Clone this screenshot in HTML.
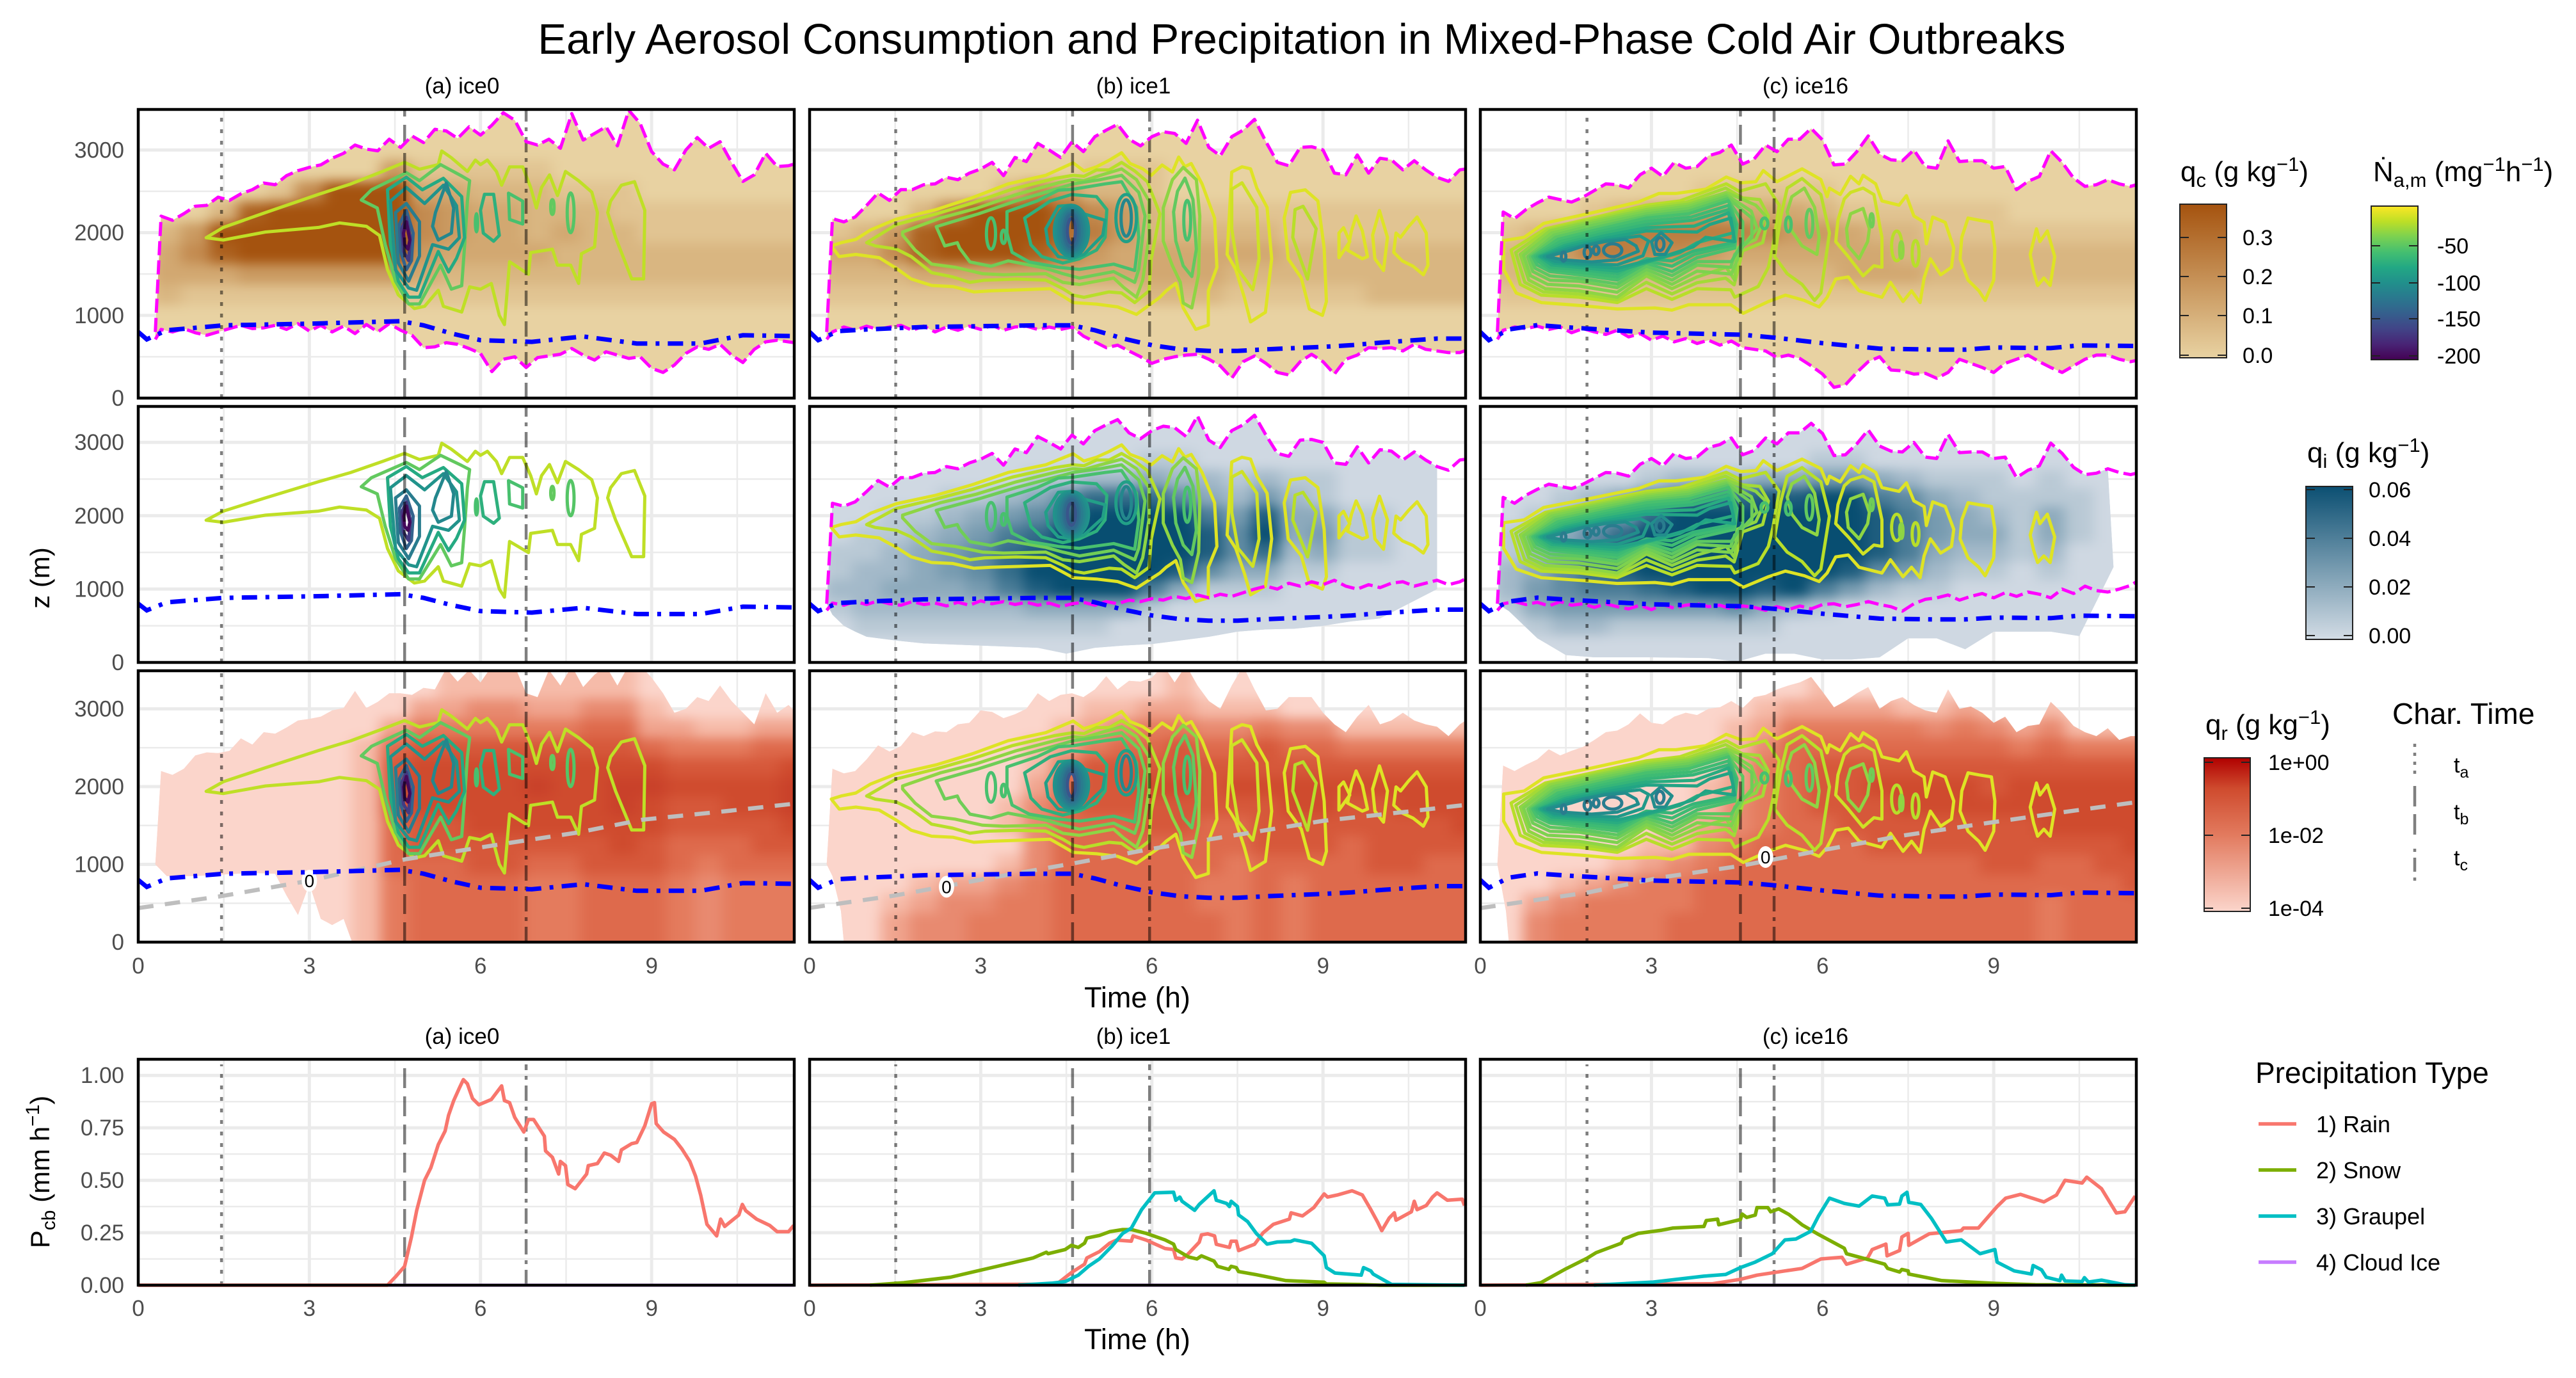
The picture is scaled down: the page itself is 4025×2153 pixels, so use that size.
<!DOCTYPE html>
<html lang="en">
<head>
<meta charset="utf-8">
<title>Early Aerosol Consumption and Precipitation in Mixed-Phase Cold Air Outbreaks</title>
<style>
html,body{margin:0;padding:0;background:#fff}
svg{display:block}
text{font-family:"Liberation Sans",sans-serif}
</style>
</head>
<body>
<svg id="fig" xmlns="http://www.w3.org/2000/svg" width="4025" height="2153" viewBox="0 0 4025 2153">
<defs>
<filter id="blurField" x="-5%" y="-5%" width="110%" height="110%" color-interpolation-filters="sRGB"><feGaussianBlur stdDeviation="11 9"/></filter>
<linearGradient id="gradQc" x1="0" y1="1" x2="0" y2="0"><stop offset="0" stop-color="#e8d2a2"/><stop offset="1" stop-color="#a5530f"/></linearGradient>
<linearGradient id="gradNa" x1="0" y1="1" x2="0" y2="0"><stop offset="0" stop-color="#440154"/><stop offset=".1" stop-color="#482475"/><stop offset=".2" stop-color="#414487"/><stop offset=".3" stop-color="#355f8d"/><stop offset=".4" stop-color="#2a788e"/><stop offset=".5" stop-color="#21908c"/><stop offset=".6" stop-color="#22a884"/><stop offset=".7" stop-color="#44bf70"/><stop offset=".8" stop-color="#7ad151"/><stop offset=".9" stop-color="#bddf26"/><stop offset="1" stop-color="#fde725"/></linearGradient>
<linearGradient id="gradQi" x1="0" y1="1" x2="0" y2="0"><stop offset="0" stop-color="#d3dce5"/><stop offset="1" stop-color="#0b4f72"/></linearGradient>
<linearGradient id="gradQr" x1="0" y1="1" x2="0" y2="0"><stop offset="0" stop-color="#fbd5cb"/><stop offset=".5" stop-color="#e27a5e"/><stop offset=".8" stop-color="#cf4b2e"/><stop offset="1" stop-color="#b00000"/></linearGradient>
</defs>
<rect x="0" y="0" width="4025" height="2153" fill="#fff"/>
<text x="2034" y="84" font-size="67" text-anchor="middle" fill="#000">Early Aerosol Consumption and Precipitation in Mixed-Phase Cold Air Outbreaks</text>
<g id="plots"></g>

<text transform="rotate(-90 77 903)" x="77" y="903" font-size="42" text-anchor="middle">z (m)</text>
<text transform="rotate(-90 77 1831)" x="77" y="1831" font-size="42" text-anchor="middle">P<tspan dy="9" font-size="30">cb</tspan><tspan dy="-9"> (mm h</tspan><tspan dy="-16" font-size="30">−1</tspan><tspan dy="16">)</tspan></text>
<text x="1777" y="1574" font-size="45" text-anchor="middle">Time (h)</text>
<text x="1777" y="2108" font-size="45" text-anchor="middle">Time (h)</text>

<g>
<text x="3407" y="283" font-size="44">q<tspan dy="9" font-size="31">c</tspan><tspan dy="-9"> (g kg</tspan><tspan dy="-16" font-size="31">−1</tspan><tspan dy="16">)</tspan></text>
<rect x="3406" y="319" width="73" height="240" fill="url(#gradQc)" stroke="#222" stroke-width="2"/>
<path d="M3406 371h14M3465 371h14M3406 432h14M3465 432h14M3406 493h14M3465 493h14M3406 555h14M3465 555h14" stroke="#222" stroke-width="2"/>
<g font-size="34" fill="#000"><text x="3504" y="383">0.3</text><text x="3504" y="444">0.2</text><text x="3504" y="505">0.1</text><text x="3504" y="567">0.0</text></g>
</g>
<g>
<text x="3708" y="283" font-size="44">Ṅ<tspan dy="9" font-size="31">a,m</tspan><tspan dy="-9"> (mg</tspan><tspan dy="-16" font-size="31">−1</tspan><tspan dy="16">h</tspan><tspan dy="-16" font-size="31">−1</tspan><tspan dy="16">)</tspan></text>
<rect x="3705" y="322" width="73" height="240" fill="url(#gradNa)" stroke="#222" stroke-width="2"/>
<path d="M3705 384h14M3764 384h14M3705 442h14M3764 442h14M3705 498h14M3764 498h14M3705 556h14M3764 556h14" stroke="#222" stroke-width="2"/>
<g font-size="34" fill="#000"><text x="3808" y="396">-50</text><text x="3808" y="454">-100</text><text x="3808" y="510">-150</text><text x="3808" y="568">-200</text></g>
</g>
<g>
<text x="3605" y="722" font-size="44">q<tspan dy="9" font-size="31">i</tspan><tspan dy="-9"> (g kg</tspan><tspan dy="-16" font-size="31">−1</tspan><tspan dy="16">)</tspan></text>
<rect x="3603" y="760" width="73" height="239" fill="url(#gradQi)" stroke="#222" stroke-width="2"/>
<path d="M3603 765h14M3662 765h14M3603 841h14M3662 841h14M3603 917h14M3662 917h14M3603 993h14M3662 993h14" stroke="#222" stroke-width="2"/>
<g font-size="34" fill="#000"><text x="3701" y="777">0.06</text><text x="3701" y="853">0.04</text><text x="3701" y="929">0.02</text><text x="3701" y="1005">0.00</text></g>
</g>
<g>
<text x="3446" y="1147" font-size="44">q<tspan dy="9" font-size="31">r</tspan><tspan dy="-9"> (g kg</tspan><tspan dy="-16" font-size="31">−1</tspan><tspan dy="16">)</tspan></text>
<rect x="3444" y="1184" width="72" height="240" fill="url(#gradQr)" stroke="#222" stroke-width="2"/>
<path d="M3444 1191h14M3502 1191h14M3444 1305h14M3502 1305h14M3444 1419h14M3502 1419h14" stroke="#222" stroke-width="2"/>
<g font-size="34" fill="#000"><text x="3544" y="1203">1e+00</text><text x="3544" y="1317">1e-02</text><text x="3544" y="1431">1e-04</text></g>
</g>
<g>
<text x="3738" y="1131" font-size="46">Char. Time</text>
<line x1="3773" y1="1162" x2="3773" y2="1213" stroke="#000" stroke-opacity=".5" stroke-width="4.5" stroke-dasharray="5 9"/>
<line x1="3773" y1="1228" x2="3773" y2="1311" stroke="#000" stroke-opacity=".5" stroke-width="4.5" stroke-dasharray="32 12"/>
<line x1="3773" y1="1326" x2="3773" y2="1376" stroke="#000" stroke-opacity=".5" stroke-width="4.5" stroke-dasharray="5 9 22 9"/>
<text x="3834" y="1207" font-size="34">t<tspan dy="8" font-size="25">a</tspan></text>
<text x="3834" y="1280" font-size="34">t<tspan dy="8" font-size="25">b</tspan></text>
<text x="3834" y="1352" font-size="34">t<tspan dy="8" font-size="25">c</tspan></text>
</g>
<g>
<text x="3524" y="1692" font-size="46">Precipitation Type</text>
<line x1="3529" y1="1756" x2="3588" y2="1756" stroke="#F8766D" stroke-width="5.5"/>
<line x1="3529" y1="1828" x2="3588" y2="1828" stroke="#7CAE00" stroke-width="5.5"/>
<line x1="3529" y1="1900" x2="3588" y2="1900" stroke="#00BFC4" stroke-width="5.5"/>
<line x1="3529" y1="1972" x2="3588" y2="1972" stroke="#C77CFF" stroke-width="5.5"/>
<text x="3619" y="1769" font-size="36">1) Rain</text>
<text x="3619" y="1841" font-size="36">2) Snow</text>
<text x="3619" y="1913" font-size="36">3) Graupel</text>
<text x="3619" y="1985" font-size="36">4) Cloud Ice</text>
</g>
</svg>
<script>
// ---------- axis ticks ----------
const timeTicks=[0,3,6,9];
const timeMinorTicks=[1.5,4.5,7.5,10.5];
const heightTicks=[0,1000,2000,3000];
const heightMinorTicks=[500,1500,2500,3500];
const precipTicks=[0,0.25,0.5,0.75,1];
const precipTickLabels=['0.00','0.25','0.50','0.75','1.00'];
const precipMinorTicks=[0.125,0.375,0.625,0.875];
const panelTitles=['(a) ice0','(b) ice1','(c) ice16'];

// ---------- characteristic times (h) per run ----------
const charTimesA=[1.46,4.67,6.8];
const charTimesB=[1.51,4.61,5.96];
const charTimesC=[1.87,4.56,5.15];

// ---------- envelope series: t = 0.3 (cloud onset), 0.4, 0.6 ... 11.6 h ----------
const cloudTopA=[800,2200,2150,2230,2320,2330,2430,2390,2470,2520,
2600,2580,2690,2750,2790,2820,2900,2960,3060,3010,
2990,3130,3030,3170,3090,3250,3230,3140,3280,3180,
3300,3450,3360,3100,3060,3130,3020,3440,3120,3200,
3280,3050,3480,3320,2980,2830,2760,3000,3150,3020,
3100,2850,2620,2700,2960,2800,2810,2850];
const cloudBaseA=[710,830,800,840,790,760,800,840,880,840,
850,880,830,900,810,880,800,870,780,890,
800,900,820,760,610,620,670,650,600,540,
320,470,500,370,490,510,530,600,520,460,
560,520,480,500,360,310,400,540,620,590,
650,520,430,590,680,700,680,660];
const cloudTopB=[800,2170,2130,2190,2330,2480,2390,2520,2520,2580,
2590,2670,2640,2720,2770,2850,2690,2910,2860,3080,
3000,2910,3100,2980,3160,3240,3310,3130,3050,3160,
3220,3200,3080,3360,3030,2930,3160,3240,3370,3100,
2850,2810,3030,3040,3000,2720,2700,2940,2720,2900,
2880,2760,2870,2760,2670,2620,2760,2780];
const cloudBaseB=[710,800,860,820,870,830,860,880,820,870,
800,860,820,870,830,880,820,860,870,830,
860,830,860,750,680,610,640,570,500,420,
470,500,520,530,470,390,240,440,510,420,
310,280,440,530,440,290,470,520,610,600,
610,570,650,590,570,550,550,600];
const cloudTopC=[800,2250,2170,2280,2360,2430,2400,2370,2430,2510,
2590,2580,2540,2700,2780,2680,2850,2780,2800,2930,
2970,3060,2830,2890,3060,2980,3130,3130,3260,3120,
2820,2830,2980,3170,2950,2880,2870,3000,2800,2780,
3110,2860,2870,2870,2780,2800,2520,2620,2680,2990,
2850,2660,2560,2580,2640,2590,2560,2600];
const cloudBaseC=[710,820,860,840,870,830,860,790,840,800,
770,820,740,780,700,750,680,720,660,700,
640,690,610,590,570,490,520,480,390,290,
130,160,310,440,500,340,330,290,300,240,
310,470,420,370,310,420,470,520,440,370,
310,390,470,520,520,470,440,470];
const iceLineBaseB=[710,810,780,830,790,840,800,780,830,790,
810,770,820,780,840,800,830,790,820,780,
810,760,800,820,780,830,800,850,830,870,
850,900,870,920,880,930,900,950,1000,1040,
1000,1080,1040,1100,1060,1120,1040,1000,1060,1020,
1080,1100,1040,1080,1120,1060,1100,1180];
const iceLineBaseC=[710,800,830,790,820,770,830,780,800,750,
800,760,730,780,720,790,740,780,800,760,
780,730,770,750,710,760,720,770,730,790,
800,760,790,830,790,760,700,800,860,880,
920,850,900,940,880,950,900,960,930,880,
1000,940,1040,980,960,1000,1050,1150];
const rainTopA=[1000,2200,2150,2230,2400,2440,2430,2460,2620,2540,
2700,2680,2760,2850,2870,2900,2980,3010,3230,3010,
3090,3200,3200,3180,3270,3250,3520,3350,3500,3340,
3550,3550,3550,3200,3150,3500,3300,3550,3280,3440,
3550,3300,3560,3560,3400,3200,2950,3000,3150,3100,
3300,3100,2950,2800,3200,2950,3050,2900];
const rainTopB=[1000,2230,2170,2200,2350,2530,2450,2520,2700,2650,
2710,2700,2800,2820,2980,2960,2880,2930,3000,3200,
3100,3180,3200,3150,3250,3420,3250,3360,3350,3400,
3560,3340,3560,3300,3100,3000,3300,3550,3250,2980,
3000,3150,3150,3150,2950,2800,2700,2900,3050,2800,
2850,2950,2850,2800,2770,2650,2800,2900];
const rainTopC=[1000,2270,2200,2280,2350,2480,2400,2460,2510,2600,
2700,2720,2800,2940,2820,2800,2900,2950,2920,3000,
3020,3100,3010,3150,3180,3250,3300,3340,3410,3220,
3020,3100,3200,3280,3000,3100,3150,3050,2980,2950,
3250,3000,3030,2950,2820,2900,2700,2780,2800,3090,
2950,2780,2700,2650,2750,2600,2650,2650];

// ---------- lower bounds of the ice and rain shading ----------
const iceBaseTimesB=[0.3,0.4,0.6,0.8,1,1.5,2,3,4,4.5,5,5.5,6,6.5,7,7.5,8,8.5,9,9.5,10,10.5,11];
const iceBaseValuesB=[800,650,500,420,350,300,260,230,200,120,200,230,250,300,350,420,450,460,500,560,600,800,1000];
const iceBaseTimesC=[0.3,0.5,1,1.5,2,3,4,4.5,5,5.5,6,6.5,7,7.5,8,8.5,9,9.5,10,10.5,11.1];
const iceBaseValuesC=[800,700,330,100,70,70,60,10,120,120,40,40,70,330,330,180,420,420,420,360,1300];
const rainBaseTimesA=[0.3,0.5,1,1.5,2,2.4,2.6,2.8,3,3.2,3.4,3.6,3.75,11.6];
const rainBaseValuesA=[1000,850,850,870,890,880,600,350,750,300,220,300,0,0];
const rainBaseTimesB=[0.3,0.4,0.55,0.6,11.6];
const rainBaseValuesB=[1000,850,400,0,0];
const rainBaseTimesC=[0.3,0.35,0.45,0.5,11.6];
const rainBaseValuesC=[1000,800,400,0,0];

// ---------- cloud base height (blue) and freezing level (grey) ----------
const meanBaseTimesA=[0,0.15,0.5,1.5,3,4.6,5,5.5,6,6.9,7.8,8.74,9.86,10.6,11.5];
const meanBaseValuesA=[800,710,820,880,900,930,880,780,700,680,745,660,660,760,750];
const meanBaseTimesB=[0,0.15,0.5,1,2,3,4,4.6,5,5.5,6,6.5,7,7.5,8,9,9.5,10,11,11.5];
const meanBaseValuesB=[800,700,810,830,860,870,880,880,820,720,640,590,570,570,590,620,640,670,720,720];
const meanBaseTimesC=[0,0.15,0.5,1,1.5,3,4.6,5.2,6,7,8,8.5,9,10,10.5,11.5];
const meanBaseValuesC=[800,700,830,883,857,792,766,728,664,598,586,586,612,604,637,630];
const freezingTimesA=[0,1.46,3,4.68,6.46,7.7,8.83,10.3,11.5];
const freezingValuesA=[438,592,790,1065,1271,1409,1574,1684,1780];
const freezingTimesB=[0,1.5,3.2,4.6,6,7.5,9,10.5,11.5];
const freezingValuesB=[440,600,830,1010,1200,1380,1560,1680,1765];
const freezingTimesC=[0,1.9,3.15,4.56,5.9,7.4,8.87,10.35,11.5];
const freezingValuesC=[438,640,830,980,1170,1370,1530,1685,1800];
const zeroLabelTimes=[3,2.4,5];
const zeroLabelHeights=[790,713,1095];

// ---------- heat map fields: columns t = 0,0.5..11.5 h; rows z = 3250,3000.. m (digit = colour class) ----------
const qcFieldA=[
[0,0,0,0,0,0,0,0,0,0,0,0,0,0,0,0,0,0,0,0,0,0,0,0],
[0,0,0,0,0,0,0,0,0,0,0,0,0,0,0,0,0,0,0,0,0,0,0,0],
[0,0,0,0,0,0,0,0,0,4,1,1,1,1,1,0,0,0,0,0,0,0,0,0],
[0,0,0,0,0,1,5,9,9,9,3,3,2,2,2,1,1,1,0,0,0,0,0,0],
[0,0,0,2,8,9,9,9,9,9,5,4,3,3,2,2,2,1,1,1,1,1,1,1],
[0,2,4,9,9,9,9,9,9,9,5,4,3,3,2,3,2,2,1,1,1,1,1,1],
[0,3,5,8,9,9,9,9,9,9,4,3,3,3,3,2,2,2,2,2,2,2,2,2],
[1,3,3,3,4,4,4,4,4,4,3,2,2,2,2,2,2,2,2,2,2,2,2,2],
[1,2,1,1,1,1,1,1,1,1,1,1,1,1,1,1,1,1,1,1,1,1,1,1],
[0,0,0,0,0,0,0,0,0,0,0,0,0,0,0,0,0,0,0,0,0,0,0,0],
[0,0,0,0,0,0,0,0,0,0,0,0,0,0,0,0,0,0,0,0,0,0,0,0],
[0,0,0,0,0,0,0,0,0,0,0,0,0,0,0,0,0,0,0,0,0,0,0,0]];
const qcFieldB=[
[0,0,0,0,0,0,0,0,0,0,0,0,0,0,0,0,0,0,0,0,0,0,0,0],
[0,0,0,0,0,0,0,0,0,0,0,0,0,0,0,0,0,0,0,0,0,0,0,0],
[0,0,0,0,0,0,0,0,0,0,1,1,1,0,0,0,0,0,0,0,0,0,0,0],
[0,0,0,0,0,0,0,2,5,4,2,2,1,0,0,0,0,0,0,0,0,0,0,0],
[0,0,0,0,2,6,9,9,9,7,5,4,2,1,1,1,1,1,1,1,1,1,1,1],
[0,1,2,4,8,9,9,9,9,7,6,4,2,2,2,2,2,1,1,1,1,1,1,1],
[1,3,3,5,8,9,9,9,8,6,4,3,3,3,3,3,3,2,2,2,2,2,2,2],
[1,2,2,2,3,3,3,3,3,3,3,3,3,3,3,2,2,2,2,2,2,2,2,2],
[1,1,1,1,1,1,1,1,1,1,1,1,2,2,2,1,1,1,1,1,2,2,2,2],
[0,0,0,0,0,0,0,0,0,0,0,0,0,0,0,0,0,0,0,0,0,0,0,0],
[0,0,0,0,0,0,0,0,0,0,0,0,0,0,0,0,0,0,0,0,0,0,0,0],
[0,0,0,0,0,0,0,0,0,0,0,0,0,0,0,0,0,0,0,0,0,0,0,0]];
const qcFieldC=[
[0,0,0,0,0,0,0,0,0,0,0,0,0,0,0,0,0,0,0,0,0,0,0,0],
[0,0,0,0,0,0,0,0,0,0,0,0,0,0,0,0,0,0,0,0,0,0,0,0],
[0,0,0,0,0,0,0,0,0,0,0,0,0,0,0,0,0,0,0,0,0,0,0,0],
[0,0,0,0,0,0,0,0,1,1,1,1,1,0,0,0,0,0,0,0,0,0,0,0],
[0,0,0,0,1,2,3,3,4,3,3,3,2,1,1,1,1,1,1,0,0,0,0,0],
[0,1,2,3,5,6,6,6,6,6,5,4,4,3,2,2,1,1,1,1,1,1,1,1],
[1,2,3,4,6,6,5,5,4,3,3,3,3,3,3,2,2,2,2,2,2,2,2,2],
[1,2,2,2,2,2,2,2,2,2,2,2,2,3,3,3,2,2,2,2,2,2,2,2],
[0,1,1,1,1,1,1,1,1,1,1,1,1,1,1,1,1,1,1,1,1,1,1,1],
[0,0,0,0,0,0,0,0,0,0,0,0,0,0,0,0,0,0,0,0,0,0,0,0],
[0,0,0,0,0,0,0,0,0,0,0,0,0,0,0,0,0,0,0,0,0,0,0,0],
[0,0,0,0,0,0,0,0,0,0,0,0,0,0,0,0,0,0,0,0,0,0,0,0]];
const qiFieldB=[
[0,0,0,0,0,0,0,0,0,0,0,0,0,0,0,0,0,0,0,0,0,0,0,0],
[0,0,0,0,0,0,0,0,0,0,0,0,0,0,0,0,0,0,0,0,0,0,0,0],
[0,0,0,0,0,0,0,0,0,0,0,0,1,1,0,0,0,0,0,0,0,0,0,0],
[0,0,0,0,0,0,0,0,1,1,2,2,3,2,2,1,2,1,1,0,0,0,0,0],
[0,0,0,0,0,1,1,2,3,5,7,7,7,5,3,2,4,2,1,0,0,0,0,0],
[0,0,0,1,1,2,3,4,5,7,9,9,9,9,6,4,8,3,3,1,1,0,0,0],
[0,0,1,1,2,3,4,6,7,9,9,9,9,9,8,5,9,3,4,1,1,0,0,0],
[0,1,1,2,3,4,5,7,8,9,9,9,9,9,8,5,7,2,3,1,1,0,0,0],
[0,1,2,2,3,4,5,7,9,9,9,9,9,8,5,3,3,1,1,0,0,0,0,0],
[0,2,2,3,3,3,4,6,8,9,9,9,6,3,1,1,1,0,0,0,0,0,0,0],
[0,1,2,2,2,2,2,2,3,3,3,3,1,0,0,0,0,0,0,0,0,0,0,0],
[0,0,1,1,1,1,1,1,1,1,1,0,0,0,0,0,0,0,0,0,0,0,0,0],
[0,0,0,0,0,0,0,0,0,0,0,0,0,0,0,0,0,0,0,0,0,0,0,0],
[0,0,0,0,0,0,0,0,0,0,0,0,0,0,0,0,0,0,0,0,0,0,0,0]];
const qiFieldC=[
[0,0,0,0,0,0,0,0,0,0,0,0,0,0,0,0,0,0,0,0,0,0,0,0],
[0,0,0,0,0,0,0,0,0,0,0,0,0,0,0,0,0,0,0,0,0,0,0,0],
[0,0,0,0,0,0,0,0,0,0,0,0,1,1,0,0,0,0,0,0,0,0,0,0],
[0,0,0,0,0,0,1,2,2,2,3,3,4,4,3,2,1,1,1,0,1,0,0,0],
[0,0,0,1,2,3,5,6,7,7,8,8,9,9,6,5,3,2,1,1,1,1,0,0],
[0,0,1,2,3,4,7,9,9,9,9,9,9,9,8,6,4,3,2,1,3,1,0,0],
[0,1,2,3,5,7,9,9,9,9,9,9,9,9,8,6,4,3,3,1,3,1,0,0],
[0,1,2,4,6,8,9,9,9,9,9,9,9,9,8,6,3,2,2,1,2,0,0,0],
[0,2,3,5,7,8,9,9,9,9,9,9,9,8,5,4,2,1,1,0,1,0,0,0],
[0,2,4,5,6,6,7,8,9,9,8,9,6,4,2,1,1,0,0,0,0,0,0,0],
[0,1,3,4,4,4,4,4,4,5,3,2,1,0,0,0,0,0,0,0,0,0,0,0],
[0,0,1,2,2,1,1,1,1,1,1,0,0,0,0,0,0,0,0,0,0,0,0,0],
[0,0,0,0,0,0,0,0,0,0,0,0,0,0,0,0,0,0,0,0,0,0,0,0],
[0,0,0,0,0,0,0,0,0,0,0,0,0,0,0,0,0,0,0,0,0,0,0,0]];
const qrFieldA=[
[0,0,0,0,0,0,0,0,0,0,0,1,1,1,1,1,1,1,0,0,0,0,0,0],
[0,0,0,0,0,0,0,0,0,0,2,2,3,3,2,2,3,3,1,0,0,0,0,0],
[0,0,0,0,0,0,0,0,0,2,4,4,4,4,4,4,5,5,2,2,1,1,2,2],
[0,0,0,0,0,0,0,0,1,5,6,6,6,6,6,6,6,6,5,4,4,4,5,5],
[0,0,0,0,0,0,0,0,1,6,7,7,7,7,7,7,7,7,7,6,6,6,6,7],
[0,0,0,0,0,0,0,0,1,6,7,7,7,7,8,7,7,8,8,7,7,7,7,8],
[0,0,0,0,0,0,0,0,1,6,7,7,7,7,7,7,7,8,7,6,6,7,7,8],
[0,0,0,0,0,0,0,0,1,5,6,6,7,7,7,7,7,7,7,6,6,6,6,7],
[0,0,0,0,0,0,0,0,1,5,6,6,6,6,6,6,6,7,6,5,5,5,6,6],
[0,0,0,0,0,0,0,0,1,5,5,5,6,6,5,5,6,6,6,5,4,5,5,5],
[0,0,0,0,0,0,0,0,1,4,5,5,5,5,4,4,5,5,5,4,3,4,4,4],
[0,0,0,0,0,0,0,0,1,4,5,5,5,5,4,4,5,5,5,4,3,4,4,4],
[0,0,0,0,0,0,0,0,1,4,5,5,5,5,4,4,5,5,5,4,3,4,4,4],
[0,0,0,0,0,0,0,0,1,4,5,5,5,5,4,4,5,5,5,4,3,4,4,4]];
const qrFieldB=[
[0,0,0,0,0,0,0,0,0,0,0,0,0,1,0,0,0,0,0,0,0,0,0,0],
[0,0,0,0,0,0,0,0,0,0,1,1,2,2,1,1,1,0,0,0,0,0,0,0],
[0,0,0,0,0,0,0,0,0,1,2,3,4,4,3,3,4,3,3,1,1,1,1,1],
[0,0,0,0,0,0,0,0,1,2,4,5,5,6,5,5,6,5,5,4,4,4,4,4],
[0,0,0,0,0,0,0,0,1,4,6,6,6,6,6,6,6,6,6,6,6,6,6,6],
[0,0,0,0,0,0,0,0,2,5,6,6,7,7,6,7,7,7,7,7,7,7,7,7],
[0,0,0,0,0,0,0,1,3,5,6,6,6,6,6,6,6,7,7,6,6,7,7,7],
[0,0,0,0,0,0,0,1,3,5,5,5,6,6,5,5,6,6,6,6,6,6,6,7],
[0,0,0,0,0,0,0,0,3,5,5,5,5,5,5,5,6,6,6,5,6,6,6,6],
[0,0,0,0,0,0,0,1,3,5,5,5,5,5,5,4,5,5,5,5,6,6,5,5],
[0,0,0,0,1,2,2,3,4,5,5,5,5,5,4,4,5,4,5,5,5,5,5,5],
[0,0,0,1,2,3,3,4,4,5,5,5,5,5,4,4,5,4,5,5,5,5,5,5],
[0,0,0,2,3,3,4,4,4,5,5,5,5,5,5,4,5,4,5,5,5,5,5,5],
[0,0,0,2,3,3,4,4,4,5,5,5,5,5,5,4,5,4,5,5,5,5,5,5]];
const qrFieldC=[
[0,0,0,0,0,0,0,0,0,0,0,0,1,0,0,0,0,0,0,0,0,0,0,0],
[0,0,0,0,0,0,0,0,0,0,1,2,2,2,2,1,1,2,1,0,1,0,0,0],
[0,0,0,0,0,0,0,0,0,1,2,4,4,4,4,4,3,4,3,2,3,1,1,1],
[0,0,0,0,0,0,0,0,0,1,3,5,5,5,5,5,5,5,5,4,5,4,4,4],
[0,0,0,0,0,0,0,0,0,2,4,5,6,6,6,6,6,6,6,6,6,6,6,6],
[0,0,0,0,0,0,0,0,1,2,4,5,6,6,7,7,7,7,6,7,7,7,7,7],
[0,0,0,0,0,0,0,0,1,3,4,5,6,6,6,7,7,7,7,7,7,7,7,7],
[0,0,0,0,0,0,0,1,2,3,4,5,5,6,6,6,6,6,6,6,7,7,7,7],
[0,0,0,0,0,0,1,1,3,4,5,5,5,5,6,6,6,6,6,6,6,6,6,7],
[0,0,0,0,0,1,2,3,4,5,5,5,5,5,5,5,5,5,6,6,5,5,6,6],
[0,0,0,1,2,3,4,4,5,5,5,5,5,5,5,5,5,5,5,5,5,5,5,6],
[0,0,2,3,4,4,4,4,5,5,5,5,5,5,5,5,5,5,5,5,4,5,5,5],
[0,0,3,4,4,4,4,5,5,5,5,5,5,5,5,5,5,5,5,5,4,5,5,5],
[0,0,3,4,4,4,4,5,5,5,5,5,5,5,5,5,5,5,5,5,4,5,5,5]];
const qcColorRamp=['#e8d2a2','#a5530f'];
const qiColorRamp=['#cfd8e2','#084e71'];
const qrColorClasses=['#fbd5cb','#f6bba9','#f0a48e','#e88a70','#e47b5d','#de6a4c','#d6583a','#cf4b2e','#c9412a','#b00000'];
const viridisStops=['#440154','#482475','#414487','#355f8d','#2a788e','#21908c','#22a884','#44bf70','#7ad151','#bddf26','#fde725'];

// ---------- aerosol consumption contours: level v (mg-1 h-1) and flat t,z outline ----------
const contoursA=[
{v:-20,p:[1.19,1939,1.49,2063,2.23,2243,3.16,2464,3.72,2588,4.28,2740,4.67,2850,4.93,2767,5.26,2823,5.32,2988,5.49,2906,5.77,2740,5.91,2878,6,2823,6.12,2878,6.28,2740,6.37,2574,6.51,2795,6.74,2795,6.88,2547,6.98,2298,7.07,2547,7.21,2698,7.35,2450,7.49,2740,7.72,2629,7.95,2491,8.05,2243,8,1828,7.77,1746,7.72,1387,7.58,1607,7.35,1607,7.26,1801,6.88,1759,6.84,1497,6.51,1649,6.42,889,6.33,1000,6.19,1386,6,1317,5.81,1345,5.67,1041,5.35,1110,5.26,1304,5.02,1110,4.84,1083,4.56,1248,4.37,1552,4.23,1966,4,2077,3.53,2118,3.16,2063,2.23,2008,1.49,1911]},
{v:-20,p:[8.28,2381,8.47,2574,8.7,2616,8.88,2270,8.86,1442,8.65,1442,8.37,1939,8.23,2243]},
{v:-50,p:[3.91,2395,4.09,2519,4.7,2726,4.93,2629,5.3,2823,5.67,2685,5.81,2629,5.77,2381,5.72,1828,5.67,1359,5.49,1317,5.3,1607,4.93,1138,4.74,1138,4.51,1414,4.33,1856,4.19,2298]},
{v:-80,p:[4.37,2519,4.7,2671,4.98,2519,5.35,2657,5.67,2436,5.72,1939,5.58,1690,5.44,1525,5.26,1773,4.93,1221,4.74,1221,4.56,1414,4.42,1856]},
{v:-100,p:[4.42,2381,4.7,2547,5.02,2353,5.35,2574,5.58,2325,5.63,1939,5.44,1801,5.16,1856,4.88,1304,4.74,1331,4.51,1552]},
{v:-120,p:[4.51,2243,4.7,2353,4.93,2132,4.93,1718,4.74,1414,4.56,1635]},
{v:-140,p:[4.58,2105,4.7,2270,4.82,1994,4.79,1663,4.7,1552,4.6,1773]},
{v:-170,p:[4.62,2049,4.7,2187,4.77,1939,4.74,1663,4.65,1773]},
{v:-200,p:[4.65,1994,4.7,2132,4.76,1911,4.73,1801,4.67,1856]},
{v:-110,p:[5.21,2243,5.4,2602,5.53,2298,5.49,1994,5.26,1911,5.16,2077]},
{v:-75,p:[6.07,2464,6.23,2464,6.33,1967,6.23,1897,6.05,1994,6,2270]},
{v:-60,p:[6.49,2478,6.74,2381,6.74,2105,6.51,2160]}
];
const ellipsesA=[
{v:-60,t:5.93,z:2120,dt:.02,dz:110},
{v:-50,t:7.26,z:2310,dt:.03,dz:90},
{v:-55,t:7.58,z:2240,dt:.06,dz:240}
];
const contoursB=[
{v:-10,p:[.38,1840,.55,1879,.81,1918,1.07,2034,1.52,2164,2.22,2280,2.85,2422,3.48,2590,4.14,2694,4.62,2844,4.81,2746,5.03,2797,5.25,2875,5.47,2966,5.62,2836,5.84,2772,5.99,2694,6.18,2818,6.36,2733,6.47,2914,6.58,2798,6.69,2836,6.88,2590,7.1,2176,7.14,1582,6.99,1297,6.99,883,6.77,831,6.55,1090,6.42,1388,6.25,1297,6.14,1219,5.73,1012,5.4,1103,5.03,1137,4.62,1155,4.44,1232,4.22,1323,3.7,1310,3.18,1297,2.88,1284,2.51,1349,2.14,1362,1.78,1440,1.52,1569,1.22,1698,.81,1737,.52,1711]},
{v:-22,p:[1,1879,1.52,2099,2.22,2228,2.85,2358,3.55,2526,4.29,2655,4.62,2694,4.81,2681,5.03,2759,5.25,2759,5.47,2849,5.7,2746,5.92,2616,6.14,2228,5.99,1685,5.95,1297,5.7,1155,5.47,1271,5.25,1284,4.81,1219,4.62,1245,4.44,1323,4.14,1427,3.62,1439,3.07,1426,2.81,1400,2.51,1465,2.14,1517,1.78,1711,1.52,1802,1.15,1840]},
{v:-35,p:[1.63,2008,2.29,2176,2.92,2293,3.62,2461,4.36,2603,4.62,2642,4.81,2629,5.1,2694,5.47,2771,5.73,2642,5.95,2384,5.95,1944,5.84,1427,5.73,1219,5.51,1336,5.33,1452,4.73,1374,4.44,1400,4.14,1504,3.4,1491,3.03,1504,2.55,1582,2.14,1620,1.85,1788,1.63,1970]},
{v:-45,p:[2.22,2073,2.96,2228,3.62,2384,4.44,2552,4.62,2590,5.1,2642,5.47,2694,5.77,2487,5.88,2202,5.77,1556,5.7,1400,5.33,1530,4.73,1452,4.44,1504,4.14,1569,3.48,1659,3.18,1594,2.81,1646,2.63,1814,2.59,1879,2.37,1840]},
{v:-60,p:[3.46,2254,3.99,2384,4.36,2513,4.62,2526,5.18,2590,5.47,2616,5.73,2306,5.77,1944,5.7,1543,5.33,1620,4.73,1556,4.36,1582,3.85,1646,3.55,1763,3.46,1996]},
{v:-75,p:[3.77,2177,4.22,2384,4.59,2461,5.03,2435,5.21,2280,5.18,1944,5.03,1790,4.73,1685,4.44,1633,4.07,1711,3.88,1853]},
{v:-90,p:[4.14,2047,4.36,2319,4.59,2332,4.81,2228,5.18,2150,5.14,1970,4.81,1737,4.59,1685,4.36,1711,4.18,1866]},
{v:-35,p:[6.36,2640,6.55,2790,6.78,2640,6.84,2200,6.82,1500,6.7,1090,6.55,1150,6.5,1400,6.36,1600,6.2,1900,6.2,2300]},
{v:-50,p:[6.45,2500,6.58,2660,6.72,2400,6.78,1800,6.7,1470,6.55,1600,6.42,1900,6.38,2250]},
{v:-10,p:[7.4,2733,7.58,2797,7.73,2772,7.84,2539,8.02,2306,8.1,1685,7.99,1038,7.73,922,7.62,1219,7.47,1556,7.32,1737]},
{v:-15,p:[7.4,2526,7.58,2603,7.84,2306,7.88,1685,7.77,1310,7.51,1556,7.4,2047]},
{v:-10,p:[8.43,2487,8.69,2518,8.91,2384,9.02,1814,9.06,1168,8.99,1000,8.76,1077,8.62,1452,8.39,1685,8.32,2177]},
{v:-22,p:[8.51,2280,8.65,2319,8.88,2047,8.73,1439,8.47,1944]},
{v:-10,p:[9.28,1996,9.36,2060,9.47,1892,9.28,1698]},
{v:-10,p:[9.58,2202,9.69,2021,9.78,1711,9.69,1685,9.43,1789,9.5,2021]},
{v:-10,p:[9.99,2267,10.13,1944,10.06,1543,9.91,1685,9.87,1970]},
{v:-10,p:[10.65,2190,10.81,1996,10.84,1608,10.76,1491,10.58,1594,10.39,1659,10.24,1762,10.28,1996,10.36,1944,10.5,2073]}
];
const ellipsesB=[
{v:-60,t:3.18,z:1990,dt:.08,dz:190},
{v:-60,t:3.4,z:1950,dt:.04,dz:80},
{v:-100,t:4.59,z:2021,dt:.3,dz:310},
{v:-105,t:4.59,z:2021,dt:.26,dz:285},
{v:-112,t:4.59,z:2021,dt:.22,dz:265},
{v:-120,t:4.59,z:2021,dt:.18,dz:245},
{v:-128,t:4.59,z:2021,dt:.14,dz:220},
{v:-135,t:4.59,z:2021,dt:.11,dz:195},
{v:-150,t:4.59,z:2021,dt:.07,dz:150},
{v:-90,t:5.55,z:2177,dt:.18,dz:285},
{v:-110,t:5.55,z:2177,dt:.09,dz:220},
{v:-60,t:6.62,z:2150,dt:.06,dz:240}
];
const contoursC=[
{v:-10,p:[.41,1905,.77,1944,1.11,2112,1.88,2228,2.77,2371,3.13,2474,3.43,2474,3.95,2526,4.31,2673,4.57,2603,4.83,2616,4.96,2751,5.2,2616,5.64,2772,5.97,2642,6.08,2435,6.12,2539,6.31,2461,6.49,2681,6.64,2591,6.71,2694,6.93,2591,7.04,2384,7.34,2332,7.47,2448,7.6,2202,7.78,2125,7.82,1866,7.93,2189,8.15,2125,8.3,1814,8.26,1582,8.07,1491,7.89,1685,7.78,1452,7.71,1155,7.56,1297,7.41,1168,7.19,1400,7.04,1219,6.64,1297,6.45,1465,6.23,1439,6.08,1219,5.94,1103,5.68,1181,5.35,1245,5.05,1168,4.61,1025,4.39,1129,4.09,1129,3.65,1129,3.36,1064,3.06,1090,2.4,1077,1.81,1116,1.07,1155,.63,1271,.41,1556]},
{v:-22,p:[.54,1789,1.14,2047,1.88,2164,2.91,2332,3.5,2384,4.31,2591,4.54,2500,5,2591,5.24,2332,5.13,1840,5.05,1582,4.87,1349,4.46,1220,4.39,1310,3.8,1323,3.36,1194,2.91,1323,2.4,1155,1.73,1220,1.07,1245,.7,1375]},
{v:-28,p:[.62,1760,1.18,2034,1.88,2145,2.91,2306,3.6,2365,4.3,2540,4.6,2420,4.9,2400,5.05,2200,4.95,1880,4.6,1780,4.45,1370,4.3,1450,3.8,1395,3.36,1260,2.91,1400,2.4,1190,1.73,1258,1.1,1285,.78,1400]},
{v:-35,p:[.7,1737,1.22,2021,1.88,2125,2.91,2280,3.65,2345,4.31,2487,4.83,2332,5,2202,4.83,1918,4.5,1814,4.46,1427,4.31,1582,3.8,1465,3.36,1323,2.91,1478,2.4,1220,1.73,1297,1.14,1323,.85,1427]},
{v:-40,p:[.76,1725,1.25,1995,1.9,2105,2.91,2255,3.65,2320,4.31,2460,4.75,2260,4.85,2050,4.6,1830,4.4,1500,3.8,1535,3.36,1375,2.91,1515,2.4,1280,1.73,1355,1.18,1375,.88,1480]},
{v:-45,p:[.83,1711,1.29,1970,1.95,2086,2.91,2228,3.65,2293,4.31,2435,4.76,2177,4.76,1944,4.46,1737,4.39,1582,3.8,1607,3.36,1427,2.91,1556,2.4,1336,1.73,1413,1.22,1426,.92,1530]},
{v:-52,p:[.88,1711,1.32,1945,2,2060,2.91,2200,3.65,2260,4.33,2410,4.6,2130,4.6,1880,4.4,1650,3.8,1650,3.36,1480,2.91,1595,2.4,1380,1.73,1450,1.22,1478,.96,1570]},
{v:-60,p:[.92,1711,1.36,1918,2.03,2034,2.91,2177,3.65,2228,4.35,2384,4.5,2099,4.46,1814,3.8,1698,3.36,1530,2.91,1633,2.4,1427,1.73,1491,1.22,1530,1,1607]},
{v:-65,p:[.96,1711,1.4,1892,2.06,2008,2.91,2138,3.7,2190,4.35,2330,4.48,2100,4.44,1850,3.75,1737,3.36,1595,2.91,1660,2.4,1465,1.73,1523,1.22,1556,1.04,1640]},
{v:-70,p:[1,1711,1.44,1866,2.1,1983,2.91,2099,3.73,2151,4.35,2280,4.46,2099,4.42,1879,3.73,1776,3.36,1659,2.91,1685,2.4,1504,1.73,1556,1.22,1582]},
{v:-78,p:[1.04,1711,1.48,1846,2.14,1957,2.91,2060,3.75,2080,4.35,2240,4.44,2000,3.8,1880,3.5,1760,3.1,1680,2.4,1535,1.73,1580,1.25,1610]},
{v:-85,p:[1.07,1711,1.51,1827,2.18,1931,2.91,2021,3.8,2008,4.02,2099,4.39,2177,4.46,1892,3.95,1944,3.73,1827,3.21,1711,2.4,1569,1.73,1607,1.29,1633]},
{v:-95,p:[1.12,1711,1.55,1808,2.2,1910,2.8,1960,2.95,1900,2.85,1720,2.4,1610,1.73,1625,1.3,1655]},
{v:-105,p:[1.18,1711,1.59,1789,1.81,1840,2.18,1892,2.54,1918,2.73,1840,2.77,1776,2.4,1672,1.95,1646,1.44,1672]},
{v:-105,p:[3.17,2000,3.36,1879,3.24,1737,3.06,1737,3,1892]},
{v:-22,p:[5.38,2539,5.64,2655,5.97,2461,6.12,1996,5.97,1271,5.86,1181,5.64,1375,5.38,1504,5.16,1711,5.27,2202]},
{v:-35,p:[5.46,2435,5.68,2539,5.86,2306,5.94,1944,5.9,1737,5.64,1840,5.46,2021,5.38,2254]},
{v:-15,p:[6.38,2409,6.49,2487,6.71,2539,6.9,2461,7.04,1944,7.04,1582,6.9,1600,6.71,1478,6.45,1711,6.23,1892,6.27,2151]},
{v:-35,p:[6.49,2228,6.71,2293,6.82,2047,6.79,1892,6.64,1685,6.45,1840,6.42,2047]},
{v:-10,p:[8.55,2177,8.74,2151,8.96,2125,9.02,1814,9,1427,8.85,1181,8.74,1297,8.55,1426,8.41,1685,8.44,1944]},
{v:-10,p:[9.75,2047,9.81,1892,9.94,2021,10.07,1711,9.99,1362,9.88,1452,9.77,1362,9.7,1530,9.64,1737]}
];
const ellipsesC=[
{v:-120,t:1.46,z:1711,dt:.04,dz:55},
{v:-120,t:1.88,z:1762,dt:.06,dz:65},
{v:-120,t:2.03,z:1788,dt:.05,dz:52},
{v:-120,t:2.32,z:1788,dt:.16,dz:78},
{v:-120,t:3.15,z:1862,dt:.07,dz:78},
{v:-60,t:4.98,z:2112,dt:.06,dz:65},
{v:-60,t:5.4,z:2100,dt:.05,dz:90},
{v:-50,t:5.77,z:2112,dt:.06,dz:170},
{v:-45,t:6.86,z:2150,dt:.03,dz:80},
{v:-22,t:7.3,z:1840,dt:.09,dz:180},
{v:-35,t:7.38,z:1790,dt:.03,dz:100},
{v:-22,t:7.63,z:1750,dt:.06,dz:155}
];

// ---------- precipitation series at cloud base ----------
const rainTimesA=[0,4.37,4.51,4.67,4.79,4.88,5.02,5.13,5.26,5.38,5.44,5.53,5.63,5.7,5.77,5.86,5.97,6.19,6.37,6.42,6.51,6.6,6.76,6.84,6.93,7.12,7.14,7.26,7.37,7.4,7.49,7.53,7.66,7.86,7.89,8.05,8.17,8.28,8.42,8.47,8.65,8.74,8.88,9,9.05,9.08,9.21,9.4,9.53,9.67,9.77,9.86,9.97,10.14,10.21,10.28,10.53,10.59,10.65,10.84,11.07,11.2,11.4,11.49];
const rainValuesA=[0,0,.04,.09,.23,.355,.5,.56,.67,.735,.81,.88,.94,.98,.96,.89,.86,.885,.95,.88,.87,.8,.73,.79,.79,.71,.64,.61,.53,.59,.57,.48,.46,.53,.57,.58,.63,.62,.59,.645,.675,.68,.76,.865,.87,.77,.73,.695,.65,.59,.52,.43,.29,.235,.315,.28,.335,.385,.355,.315,.285,.255,.255,.285];
const rainTimesB=[0,4.33,4.59,4.82,4.86,5.08,5.26,5.38,5.64,5.67,5.9,6.23,6.38,6.42,6.53,6.64,6.83,6.87,6.98,7.1,7.13,7.36,7.39,7.48,7.52,7.8,7.95,8.13,8.41,8.44,8.64,8.84,9.02,9.08,9.25,9.51,9.69,9.84,9.96,10.03,10.16,10.25,10.28,10.55,10.6,10.65,10.81,10.92,11,11.18,11.44,11.48];
const rainValuesB=[0,.005,.06,.1,.13,.16,.2,.215,.21,.235,.215,.175,.17,.13,.125,.15,.205,.24,.245,.235,.195,.18,.21,.21,.165,.195,.25,.29,.315,.345,.33,.37,.435,.42,.43,.45,.43,.36,.3,.26,.32,.345,.31,.35,.4,.36,.38,.42,.44,.405,.41,.38];
const rainTimesC=[0,4.07,4.56,4.85,5.34,5.64,5.97,6.34,6.42,6.79,6.87,7.11,7.13,7.35,7.39,7.5,7.51,7.87,8.43,8.47,8.73,9.06,9.21,9.47,9.88,10.1,10.25,10.55,10.63,10.89,11.15,11.3,11.48];
const rainValuesC=[0,.007,.028,.048,.068,.08,.125,.133,.1,.13,.17,.196,.14,.165,.23,.247,.19,.245,.26,.272,.272,.375,.415,.433,.397,.43,.5,.487,.515,.46,.344,.35,.425];
const snowTimesB=[1.06,1.65,2.47,3.29,3.92,4.15,4.18,4.48,4.59,4.71,4.82,4.86,5.08,5.26,5.49,5.64,5.9,6.23,6.38,6.42,6.64,6.79,6.87,7.09,7.15,7.35,7.39,7.48,7.52,7.83,8.35,9.02,9.06,9.69,10,11.48];
const snowValuesB=[0,.012,.038,.09,.13,.157,.15,.17,.19,.18,.2,.225,.237,.255,.265,.265,.247,.216,.196,.17,.135,.125,.14,.115,.09,.075,.09,.084,.065,.05,.022,.014,.006,.003,0,0];
const snowTimesC=[.8,1.06,1.5,1.88,2.03,2.47,2.51,2.77,3.18,3.37,3.92,3.96,4.16,4.18,4.56,4.59,4.67,4.82,4.85,5.04,5.09,5.23,5.41,5.64,5.93,6.38,6.42,6.83,7.09,7.14,7.35,7.39,7.5,7.51,8.09,9.02,9.73,11.48];
const snowValuesC=[0,.012,.078,.13,.155,.2,.22,.247,.262,.272,.28,.308,.315,.288,.313,.339,.323,.334,.37,.37,.35,.364,.337,.288,.242,.176,.15,.12,.1,.08,.063,.075,.068,.053,.022,.009,.002,0];
const graupelTimesB=[3.66,4.26,4.48,4.71,4.89,5.08,5.3,5.49,5.64,5.82,6.05,6.38,6.42,6.49,6.53,6.75,6.83,7.09,7.13,7.31,7.36,7.39,7.5,7.52,7.68,7.83,8.02,8.2,8.43,8.5,8.8,9.02,9.06,9.21,9.67,9.71,9.84,9.88,10.2,11.48];
const graupelValuesB=[0,.01,.017,.048,.09,.125,.186,.247,.272,.36,.44,.443,.405,.42,.4,.357,.385,.45,.405,.39,.375,.4,.375,.335,.303,.247,.196,.206,.208,.216,.2,.14,.084,.058,.048,.084,.068,.053,.004,0];
const graupelTimesC=[1.99,3.03,3.92,4.3,4.56,4.82,5.12,5.34,5.53,5.79,5.93,6.12,6.38,6.64,6.87,7.09,7.14,7.35,7.39,7.48,7.51,7.72,7.91,8.17,8.43,8.76,9.02,9.06,9.36,9.66,9.69,9.84,9.92,10.16,10.19,10.25,10.55,10.59,10.66,10.89,11.3,11.48];
const graupelValuesC=[0,.015,.043,.051,.084,.11,.15,.216,.22,.257,.33,.415,.39,.377,.425,.415,.383,.387,.425,.443,.395,.385,.318,.206,.216,.15,.17,.11,.068,.053,.094,.073,.038,.022,.048,.02,.017,.036,.015,.024,.002,0];
const cloudIceTimes=[0,11.5];
const cloudIceValues=[0,0];

// ---------- scales ----------
const NS='http://www.w3.org/2000/svg';
const columnLefts=[216,1265,2313];
const titleCenters=[722,1771,2821];
const panelWidth=1025;
const timeMax=11.5;
const rows=[{top:171,bot:622},{top:635,bot:1035},{top:1048,bot:1472}];
const heightMax=3490;
const precipRow={top:1655,bot:2008,max:1.077};
const cloudStartTime=0.3;
const xScale=(col,t)=>columnLefts[col]+t*panelWidth/timeMax;
const yScale=(row,z)=>rows[row].bot-z*(rows[row].bot-rows[row].top)/heightMax;
const yPrecip=v=>precipRow.bot-v*(precipRow.bot-precipRow.top)/precipRow.max;
const envTime=i=>i===0?cloudStartTime:0.2+0.2*i;

function hex(c){return [1,3,5].map(i=>parseInt(c.substr(i,2),16));}
function mix(a,b,f){const A=hex(a),B=hex(b);return 'rgb('+A.map((v,i)=>Math.round(v+(B[i]-v)*f)).join(',')+')';}
function viridis(v){const f=Math.max(0,Math.min(1,(v+205)/205))*10,i=Math.min(9,Math.floor(f));return mix(viridisStops[i],viridisStops[i+1],f-i);}
const qcColor=d=>mix(qcColorRamp[0],qcColorRamp[1],d/9);
const qiColor=d=>mix(qiColorRamp[0],qiColorRamp[1],d/9);
const qrColor=d=>qrColorClasses[d];

function mk(tag,attrs,parent){const e=document.createElementNS(NS,tag);for(const k in attrs)e.setAttribute(k,attrs[k]);parent.appendChild(e);return e;}
function pts(col,row,ts,zs){return ts.map((t,i)=>xScale(col,t).toFixed(1)+','+yScale(row,zs[i]).toFixed(1)).join(' ');}
function envTimes(arr){return arr.map((_,i)=>envTime(i));}

const plots=document.getElementById('plots');
const defs=document.querySelector('#fig defs');

const runs=[
{key:'a',chars:charTimesA,contours:contoursA,ellipses:ellipsesA,top:cloudTopA,base:cloudBaseA,qc:qcFieldA,qi:null,qr:qrFieldA,rainTop:rainTopA,rainBaseT:rainBaseTimesA,rainBaseZ:rainBaseValuesA,blueT:meanBaseTimesA,blueZ:meanBaseValuesA,frzT:freezingTimesA,frzZ:freezingValuesA,
 series:[['rain','#F8766D',rainTimesA,rainValuesA]]},
{key:'b',chars:charTimesB,contours:contoursB,ellipses:ellipsesB,top:cloudTopB,base:cloudBaseB,qc:qcFieldB,qi:qiFieldB,iceLine:iceLineBaseB,iceT:iceBaseTimesB,iceZ:iceBaseValuesB,qr:qrFieldB,rainTop:rainTopB,rainBaseT:rainBaseTimesB,rainBaseZ:rainBaseValuesB,blueT:meanBaseTimesB,blueZ:meanBaseValuesB,frzT:freezingTimesB,frzZ:freezingValuesB,
 series:[['rain','#F8766D',rainTimesB,rainValuesB],['snow','#7CAE00',snowTimesB,snowValuesB],['graupel','#00BFC4',graupelTimesB,graupelValuesB]]},
{key:'c',chars:charTimesC,contours:contoursC,ellipses:ellipsesC,top:cloudTopC,base:cloudBaseC,qc:qcFieldC,qi:qiFieldC,iceLine:iceLineBaseC,iceT:iceBaseTimesC,iceZ:iceBaseValuesC,qr:qrFieldC,rainTop:rainTopC,rainBaseT:rainBaseTimesC,rainBaseZ:rainBaseValuesC,blueT:meanBaseTimesC,blueZ:meanBaseValuesC,frzT:freezingTimesC,frzZ:freezingValuesC,
 series:[['rain','#F8766D',rainTimesC,rainValuesC],['snow','#7CAE00',snowTimesC,snowValuesC],['graupel','#00BFC4',graupelTimesC,graupelValuesC]]}
];
const charDash=['6 12','31 13','24 9 6 9'];
const charNames=['ta','tb','tc'];

function gridLines(g,col,top,bot,yMajor,yMinor){
  const L=columnLefts[col],R=L+panelWidth;
  yMinor.forEach(y=>{
    const e=mk('line',{x1:L,x2:R,y1:y,y2:y,stroke:'#ebebeb','stroke-width':2.5},g);
    
    
  });
  yMajor.forEach(y=>{
    const e=mk('line',{x1:L,x2:R,y1:y,y2:y,stroke:'#ebebeb','stroke-width':5},g);
    
    
  });
  timeMinorTicks.forEach(t=>{
    const e=mk('line',{x1:xScale(col,t),x2:xScale(col,t),y1:top,y2:bot,stroke:'#ebebeb','stroke-width':2.5},g);
    
    
  });
  timeTicks.forEach(t=>{
    const e=mk('line',{x1:xScale(col,t),x2:xScale(col,t),y1:top,y2:bot,stroke:'#ebebeb','stroke-width':5},g);
    
    
  });
}
function charLines(g,col,run,top,bot){
  run.chars.forEach((t,i)=>{
    const e=mk('line',{x1:xScale(col,t),x2:xScale(col,t),y1:bot,y2:top,stroke:'#000','stroke-opacity':.5,'stroke-width':4.5,'stroke-dasharray':charDash[i]},g);
    
    
  });
}
function field(g,col,row,matrix,colorFn,polyPts,name){
  const id='clip-'+name;
  const cp=mk('clipPath',{id:id},defs);
  mk('polygon',{points:polyPts},cp);
  const wrap=mk('g',{'clip-path':'url(#'+id+')'},g);
  
  
  mk('rect',{x:columnLefts[col],y:rows[row].top-80,width:panelWidth,height:rows[row].bot-rows[row].top+160,fill:colorFn(0)},wrap);
  const blur=mk('g',{filter:'url(#blurField)'},wrap);
  const zStep=250,zFirst=3250,tStep=0.5;
  matrix.forEach((vals,r)=>{
    const z=zFirst-r*zStep;
    vals.forEach((d,c)=>{
      const t=c*tStep;
      let x0=xScale(col,t-tStep/2),x1=xScale(col,t+tStep/2);
      let y0=yScale(row,z+zStep/2),y1=yScale(row,z-zStep/2);
      if(c===0)x0-=60;
      if(c===vals.length-1)x1+=60;
      if(r===0)y0-=60;
      if(r===matrix.length-1)y1+=120;
      const e=mk('rect',{x:x0.toFixed(1),y:y0.toFixed(1),width:(x1-x0+.6).toFixed(1),height:(y1-y0+.6).toFixed(1),fill:colorFn(d)},blur);
      
      
    });
  });
}
function drawContours(g,col,row,run){
  run.contours.forEach(c=>{
    const ts=c.p.filter((_,i)=>i%2===0),zs=c.p.filter((_,i)=>i%2===1);
    const e=mk('polygon',{points:pts(col,row,ts,zs),fill:'none',stroke:viridis(c.v),'stroke-width':5,'stroke-linejoin':'round'},g);
    
    
  });
  run.ellipses.forEach(c=>{
    const cy=yScale(row,c.z);
    const e=mk('ellipse',{cx:xScale(col,c.t),cy:cy,rx:c.dt*panelWidth/timeMax,ry:Math.abs(yScale(row,c.z+c.dz)-cy),fill:'none',stroke:viridis(c.v),'stroke-width':5},g);
    
    
  });
}

runs.forEach((run,col)=>{
  const L=columnLefts[col];
  const title=mk('text',{x:titleCenters[col],y:146,'font-size':35,'text-anchor':'middle'},plots);
  title.textContent=panelTitles[col];
  
  
  const title2=mk('text',{x:titleCenters[col],y:1631,'font-size':35,'text-anchor':'middle'},plots);
  title2.textContent=panelTitles[col];
  
  

  rows.forEach((R,row)=>{
    const g=mk('g',{},plots);
    
    
    const cid='panel-clip-'+run.key+row;
    const cp=mk('clipPath',{id:cid},defs);
    mk('rect',{x:L,y:R.top,width:panelWidth,height:R.bot-R.top},cp);
    const inner=mk('g',{'clip-path':'url(#'+cid+')'},g);
    gridLines(inner,col,R.top,R.bot,heightTicks.map(z=>yScale(row,z)),heightMinorTicks.map(z=>yScale(row,z)));
    const eT=envTimes(run.top);
    if(row===0){
      const poly=pts(col,row,eT.concat(envTimes(run.base).reverse()),run.top.concat(run.base.slice().reverse()));
      field(inner,col,row,run.qc,qcColor,poly,'cloud-water-field-'+run.key);
    }
    if(row===1&&run.qi){
      const iceEnd=run.iceT[run.iceT.length-1];
      const keepT=eT.filter(t=>t<=iceEnd),keepZ=run.top.slice(0,keepT.length);
      const poly=pts(col,row,keepT.concat(run.iceT.slice().reverse()),keepZ.concat(run.iceZ.slice().reverse()));
      field(inner,col,row,run.qi,qiColor,poly,'cloud-ice-field-'+run.key);
    }
    if(row===2){
      const poly=pts(col,row,envTimes(run.rainTop).concat(run.rainBaseT.slice().reverse()),run.rainTop.concat(run.rainBaseZ.slice().reverse()));
      field(inner,col,row,run.qr,qrColor,poly,'rain-field-'+run.key);
    }
    drawContours(inner,col,row,run);
    charLines(inner,col,run,R.top,R.bot);
    if(row===2){
      const fz=mk('polyline',{points:pts(col,row,run.frzT,run.frzZ),fill:'none',stroke:'#bebebe','stroke-width':6.5,'stroke-dasharray':'24 18'},inner);
      
      
      const lx=xScale(col,zeroLabelTimes[col]),ly=yScale(row,zeroLabelHeights[col]);
      const halo=mk('ellipse',{cx:lx,cy:ly,rx:12,ry:17,fill:'#fff'},inner);
      
      
      const lab=mk('text',{x:lx,y:ly+10,'font-size':28,'text-anchor':'middle',fill:'#000'},inner);
      lab.textContent='0';
      
      
    }
    const showMagenta=(row===0)||(row===1&&run.qi);
    if(showMagenta){
      const topLine=mk('polyline',{points:pts(col,row,eT,run.top),fill:'none',stroke:'#ff00ff','stroke-width':5,'stroke-dasharray':'22 8','stroke-linejoin':'round'},inner);
      
      
      const bArr=row===0?run.base:run.iceLine;
      const baseLine=mk('polyline',{points:pts(col,row,envTimes(bArr),bArr),fill:'none',stroke:'#ff00ff','stroke-width':5,'stroke-dasharray':'22 8','stroke-linejoin':'round'},inner);
      
      
    }
    const blue=mk('polyline',{points:pts(col,row,run.blueT,run.blueZ),fill:'none',stroke:'#0000ff','stroke-width':7,'stroke-dasharray':'24 13 6 13'},inner);
    
    
    const border=mk('rect',{x:L,y:R.top,width:panelWidth,height:R.bot-R.top,fill:'none',stroke:'#000','stroke-width':4.5},g);
    
    
    if(col===0){
      heightTicks.forEach(z=>{
        const t=mk('text',{x:194,y:yScale(row,z)+12,'font-size':35,'text-anchor':'end',fill:'#4d4d4d'},g);
        t.textContent=String(z);
        
        
      });
    }
    if(row===2){
      timeTicks.forEach(v=>{
        const t=mk('text',{x:xScale(col,v),y:1521,'font-size':35,'text-anchor':'middle',fill:'#4d4d4d'},g);
        t.textContent=String(v);
        
        
      });
    }
  });

  // precipitation panel
  const g=mk('g',{},plots);
  
  
  const cid='precip-clip-'+run.key;
  const cp=mk('clipPath',{id:cid},defs);
  mk('rect',{x:L,y:precipRow.top,width:panelWidth,height:precipRow.bot-precipRow.top+3},cp);
  const inner=mk('g',{'clip-path':'url(#'+cid+')'},g);
  gridLines(inner,col,precipRow.top,precipRow.bot,precipTicks.map(yPrecip),precipMinorTicks.map(yPrecip));
  charLines(inner,col,run,precipRow.top+8,precipRow.bot);
  const ice=mk('polyline',{points:cloudIceTimes.map((t,i)=>xScale(col,t)+','+yPrecip(cloudIceValues[i])).join(' '),fill:'none',stroke:'#C77CFF','stroke-width':5},inner);
  
  
  run.series.forEach(s=>{
    const e=mk('polyline',{points:s[2].map((t,i)=>xScale(col,t).toFixed(1)+','+yPrecip(s[3][i]).toFixed(1)).join(' '),fill:'none',stroke:s[1],'stroke-width':5.5,'stroke-linejoin':'round'},inner);
    
    
  });
  const border=mk('rect',{x:L,y:precipRow.top,width:panelWidth,height:precipRow.bot-precipRow.top,fill:'none',stroke:'#000','stroke-width':4.5},g);
  
  
  if(col===0){
    precipTicks.forEach((v,i)=>{
      const t=mk('text',{x:194,y:yPrecip(v)+12,'font-size':35,'text-anchor':'end',fill:'#4d4d4d'},g);
      t.textContent=precipTickLabels[i];
      
      
    });
  }
  timeTicks.forEach(v=>{
    const t=mk('text',{x:xScale(col,v),y:2056,'font-size':35,'text-anchor':'middle',fill:'#4d4d4d'},g);
    t.textContent=String(v);
    
    
  });
});
</script>
</body>
</html>
